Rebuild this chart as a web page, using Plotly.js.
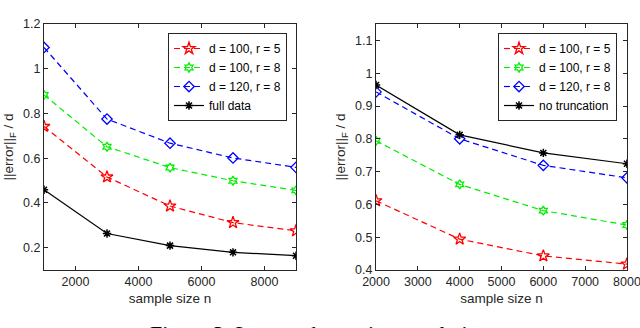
<!DOCTYPE html>
<html>
<head>
<meta charset="utf-8">
<script src="https://cdn.plot.ly/plotly-3.0.1.min.js"></script>
<style>
  html, body { margin: 0; padding: 0; background: #fff; }
  #chart { width: 640px; height: 328px; }
</style>
</head>
<body>
<div id="chart"></div>
<script>
// left panel: sample sizes and errors
const nLeft = [1000, 3000, 5000, 7000, 9000];
const leftD100r5 = [0.742, 0.516, 0.386, 0.312, 0.275];
const leftD100r8 = [0.883, 0.651, 0.558, 0.499, 0.456];
const leftD120r8 = [1.095, 0.775, 0.667, 0.601, 0.559];
const leftFull = [0.459, 0.263, 0.209, 0.179, 0.164];

// right panel
const nRight = [2000, 4000, 6000, 8000];
const rightD100r5 = [0.611, 0.494, 0.443, 0.418];
const rightD100r8 = [0.794, 0.661, 0.581, 0.537];
const rightD120r8 = [0.943, 0.800, 0.719, 0.681];
const rightNoTrunc = [0.964, 0.812, 0.757, 0.724];

const seriesNames = ['d = 100, r = 5', 'd = 100, r = 8', 'd = 120, r = 8'];
const captionText = 'Figure 3: Low-rank matrix completion';

const FONT = 'Liberation Sans, Arial, Helvetica, sans-serif';
const AXCOL = '#262626';

function dashed(x, y, name, color, symbol, size, xa, ya, legend) {
    return {
        x: x, y: y, name: name, xaxis: xa, yaxis: ya, legend: legend,
        type: 'scatter', mode: 'lines+markers',
        line: { color: color, width: 1.2, dash: '6px,4px' },
        marker: { symbol: symbol, size: size, color: color, line: { color: color, width: 1.3 } }
    };
}
function solid(x, y, name, xa, ya, legend) {
    return {
        x: x, y: y, name: name, xaxis: xa, yaxis: ya, legend: legend,
        type: 'scatter', mode: 'lines+markers',
        line: { color: '#000', width: 1.2 },
        marker: { symbol: 'asterisk-open', size: 7, color: '#000', line: { color: '#000', width: 1.5 } }
    };
}

const data = [
    dashed(nLeft, leftD100r5, seriesNames[0], '#ff0000', 'star-open', 9, 'x', 'y', 'legend'),
    dashed(nLeft, leftD100r8, seriesNames[1], '#00ee00', 'hexagram-open', 7, 'x', 'y', 'legend'),
    dashed(nLeft, leftD120r8, seriesNames[2], '#0000ff', 'diamond-open', 8, 'x', 'y', 'legend'),
    solid(nLeft, leftFull, 'full data', 'x', 'y', 'legend'),
    dashed(nRight, rightD100r5, seriesNames[0], '#ff0000', 'star-open', 9, 'x2', 'y2', 'legend2'),
    dashed(nRight, rightD100r8, seriesNames[1], '#00ee00', 'hexagram-open', 7, 'x2', 'y2', 'legend2'),
    dashed(nRight, rightD120r8, seriesNames[2], '#0000ff', 'diamond-open', 8, 'x2', 'y2', 'legend2'),
    solid(nRight, rightNoTrunc, 'no truncation', 'x2', 'y2', 'legend2')
];

const titleFont = { family: FONT, size: 13.5, color: AXCOL };

function axis(extra) {
    return Object.assign({
        showgrid: false, zeroline: false, showline: true, mirror: 'ticks',
        linecolor: AXCOL, linewidth: 1, ticks: 'inside', ticklen: 4, tickcolor: AXCOL,
        tickfont: { family: FONT, size: 12.5, color: AXCOL }, ticklabeloverflow: 'allow'
    }, extra);
}

const ytitle = '||error||<sub>F</sub> / d';

function legendBox(x) {
    return {
        x: x, y: 0.9268 - 9 / 328, xanchor: 'right', yanchor: 'top',
        bgcolor: '#fff', bordercolor: AXCOL, borderwidth: 1,
        font: { family: FONT, size: 12, color: '#000' },
        tracegroupgap: 0, itemwidth: 30
    };
}

const layout = {
    width: 640, height: 328,
    margin: { l: 0, r: 0, t: 0, b: 0 },
    paper_bgcolor: '#fff', plot_bgcolor: '#fff',
    showlegend: true,
    xaxis: axis({
        domain: [44 / 640, 296 / 640], range: [1000, 9000], tickvals: [2000, 4000, 6000, 8000],
        anchor: 'y', title: { text: 'sample size n', standoff: 5, font: titleFont }
    }),
    yaxis: axis({
        domain: [1 - 270 / 328, 1 - 24 / 328], range: [0.1, 1.2], tickvals: [0.2, 0.4, 0.6, 0.8, 1, 1.2],
        anchor: 'x', title: { text: ytitle, standoff: 6, font: titleFont }
    }),
    xaxis2: axis({
        domain: [376 / 640, 627 / 640], range: [1999, 8001],
        tickvals: [2000, 3000, 4000, 5000, 6000, 7000, 8000],
        anchor: 'y2', title: { text: 'sample size n', standoff: 5, font: titleFont }
    }),
    yaxis2: axis({
        domain: [1 - 270 / 328, 1 - 24 / 328], range: [0.4, 1.15],
        tickvals: [0.4, 0.5, 0.6, 0.7, 0.8, 0.9, 1, 1.1],
        anchor: 'x2', title: { text: ytitle, standoff: 6, font: titleFont }
    }),
    legend: legendBox(287 / 640),
    legend2: legendBox(617 / 640),
    annotations: [{
        text: captionText, xref: 'paper', yref: 'paper', x: 0.5, y: -20 / 328,
        xanchor: 'center', yanchor: 'bottom', showarrow: false,
        font: { family: 'Liberation Serif, DejaVu Serif, serif', size: 22, color: '#000' }
    }]
};

Plotly.newPlot('chart', data, layout, { displayModeBar: false, staticPlot: true });
</script>
</body>
</html>
